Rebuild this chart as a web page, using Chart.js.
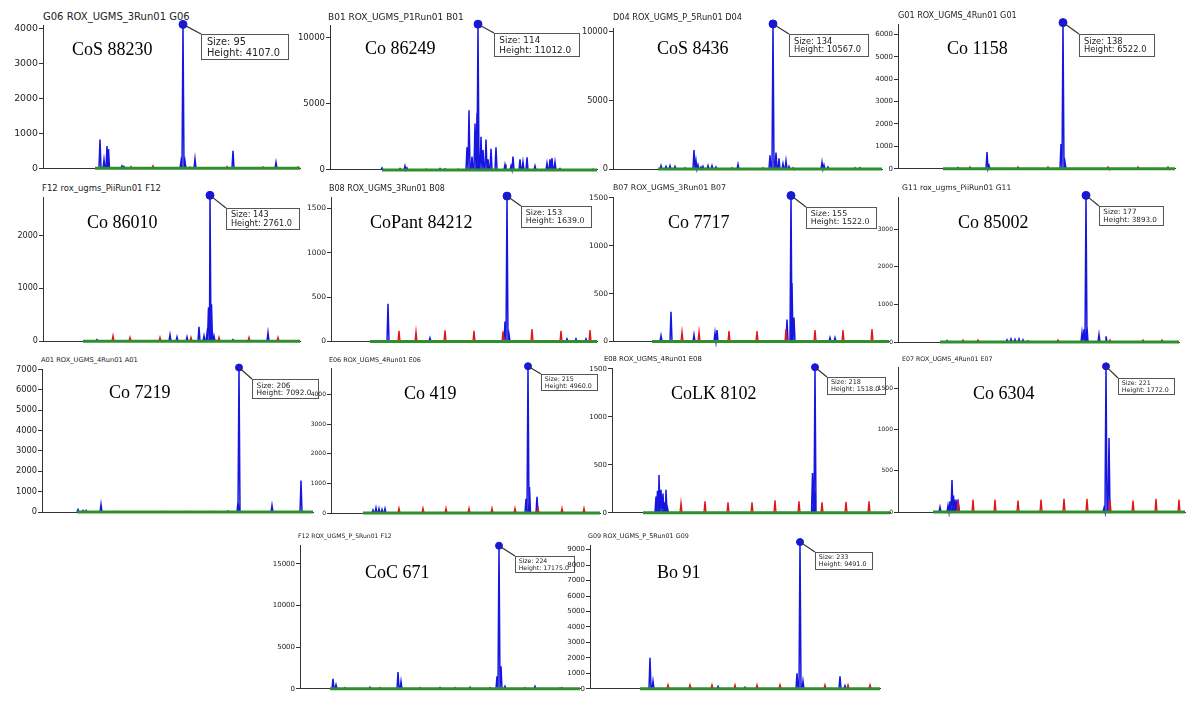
<!DOCTYPE html>
<html lang="en">
<head>
<meta charset="UTF-8"/>
<title>Electropherograms of sugarcane varieties</title>
<script src="https://cdn.jsdelivr.net/npm/chart.js"></script>
<style>
  body {
    margin: 0;
    background: #fff;
    width: 1200px;
    height: 712px;
    position: relative;
    overflow: hidden;
    font-family: 'DejaVu Sans', sans-serif;
  }
  canvas { position: absolute; }
  .title {
    position: absolute;
    white-space: nowrap;
    line-height: 1;
    color: #222;
  }
  .label {
    position: absolute;
    white-space: nowrap;
    line-height: 1;
    font-family: 'Liberation Serif', serif;
    font-size: 18px;
    color: #000;
  }
</style>
</head>
<body>
<script>
// ---- data ----
const titles = [
  'G06 ROX_UGMS_3Run01 G06', 'B01 ROX_UGMS_P1Run01 B01', 'D04 ROX_UGMS_P_5Run01 D04', 'G01 ROX_UGMS_4Run01 G01',
  'F12 rox_ugms_PiiRun01 F12', 'B08 ROX_UGMS_3Run01 B08', 'B07 ROX_UGMS_3Run01 B07', 'G11 rox_ugms_PiiRun01 G11',
  'A01 ROX_UGMS_4Run01 A01', 'E06 ROX_UGMS_4Run01 E06', 'E08 ROX_UGMS_4Run01 E08', 'E07 ROX_UGMS_4Run01 E07',
  'F12 ROX_UGMS_P_5Run01 F12', 'G09 ROX_UGMS_P_5Run01 G09'
];
const cultivars = ['CoS 88230', 'Co 86249', 'CoS 8436', 'Co 1158', 'Co 86010', 'CoPant 84212', 'Co 7717',
  'Co 85002', 'Co 7219', 'Co 419', 'CoLK 8102', 'Co 6304', 'CoC 671', 'Bo 91'];

// allele called on the main peak
const peakSize = [95, 114, 134, 138, 143, 153, 155, 177, 206, 215, 218, 221, 224, 233];
const peakHeight = [4107, 11012, 10567, 6522, 2761, 1639, 1522, 3893, 7092, 4960, 1518, 1772, 17175, 9491];
const peakScan = [140, 148, 160, 165, 167, 176, 178, 188, 197, 197, 203, 208, 199, 210];

// axes
const yMax = [4090, 10950, 10270, 6460, 2730, 1629, 1507, 3850, 7020, 4900, 1510, 1764, 17260, 9300];
const yStep = [1000, 5000, 5000, 1000, 1000, 500, 500, 1000, 1000, 1000, 500, 500, 5000, 1000];
const scanStart = [52, 52, 45, 45, 40, 39, 39, 42, 35, 32, 31, 35, 30, 50];
const scanEnd = [257, 267, 269, 277, 257, 266, 276, 281, 271, 269, 278, 287, 280, 290];

// other blue (FAM) peaks: [scan, height]
const blueCoS88230 = [[57, 820], [61, 250], [64, 640], [65.5, 550], [79, 70], [81, 50], [138, 200], [142, 200], [152, 270], [190, 500], [233, 170]];
const blueCo86249 = [[52, 150], [70, 100], [75, 300], [77, 150], [110, 100], [115, 80], [137, 1700], [139, 4500], [142, 1000], [145, 3500],
  [147, 4300], [151, 2500], [153, 1500], [156, 2300], [158, 800], [161, 1600], [166, 1700], [175, 400], [181, 300], [183, 1000],
  [190, 800], [193, 600], [197, 950], [205, 300], [217, 500], [220, 800], [222, 900], [225, 600], [230, 100]];
const blueCoS8436 = [[48, 250], [53, 200], [57, 250], [62, 200], [81, 1385], [83, 600], [85, 300], [88, 150], [90, 200], [95, 250],
  [99, 250], [103, 150], [125, 350], [157, 1000], [163, 1200], [166, 790], [170, 400], [173, 600], [176, 200], [209, 500], [211, 300],
  [215, 150], [247, 100]];
const blueCo1158 = [[60, 60], [89, 750], [91, 150], [163, 1100], [167, 300]];
const blueCo86010 = [[54, 30], [127, 120], [134, 80], [144, 80], [156, 270], [161, 100], [164, 150], [165.5, 640], [168.5, 700],
  [171, 100], [190, 30], [225, 160]];
const blueCoPant84212 = [[57, 425], [99, 40], [174, 225], [178, 80], [236, 30], [245, 30], [255, 30]];
const blueCo7717 = [[48, 60], [58, 310], [81, 70], [102, 90], [104, 120], [174, 230], [179, 610], [181, 250], [217, 40], [222, 40]];
const blueCo85002 = [[49, 40], [109, 60], [113, 80], [117, 70], [121, 80], [125, 60], [130, 30], [184, 250], [186, 340], [189, 400],
  [201, 200], [208, 150]];
const blueCo7219 = [[36, 120], [41, 80], [44, 80], [59, 370], [186, 50], [196, 500], [230, 330], [259, 1550]];
const blueCo419 = [[42, 100], [45, 170], [48, 150], [51, 120], [54, 150], [195, 480], [198.5, 880], [206, 550]];
const blueCoLK8102 = [[44, 170], [45.5, 230], [47, 395], [49, 240], [51, 200], [52.5, 110], [54, 240], [55.5, 50], [200.5, 415], [202, 300]];
const blueCo6304 = [[42, 60], [50, 80], [52, 130], [54, 390], [55.5, 200], [57, 150], [59, 150], [60.5, 100], [206, 50], [211, 900]];
const blueCoC671 = [[33, 1200], [36, 500], [70, 200], [98, 2000], [101, 900], [140, 150], [170, 200], [197, 1500], [201, 2700],
  [205, 300], [235, 300], [260, 100]];
const blueBo91 = [[60, 2000], [63, 500], [128, 150], [155, 100], [207, 1000], [213, 500], [250, 800], [255, 200]];

// red (ROX size standard) peaks: [scan, height]
const redCoS88230 = [[88, 50], [110, 70], [147, 40], [184, 50], [220, 40], [255, 40]];
const redCo86249 = [[96, 60], [128, 60], [263, 60]];
const redCoS8436 = [[72, 100], [119, 100], [150, 100], [180, 100], [242, 100]];
const redCo1158 = [[72, 80], [120, 80], [150, 80], [210, 80], [240, 80], [270, 80]];
const redCo86010 = [[70, 100], [87, 70], [117, 70], [148, 70], [176, 70], [206, 70], [235, 70]];
const redCoPant84212 = [[68, 120], [85, 110], [114, 125], [143, 120], [172, 115], [201, 140], [230, 120], [259, 130]];
const redCo7717 = [[69, 100], [86, 100], [116, 110], [144, 110], [173, 130], [202, 120], [230, 120], [259, 130]];
const redCo85002 = [[65, 50], [80, 50], [160, 50], [212, 50], [245, 50], [264, 50]];
const redCo7219 = [[71, 20], [120, 20], [145, 20], [167, 20]];
const redCo419 = [[68, 160], [92, 160], [115, 160], [138, 160], [161, 160], [184, 160], [207, 160], [231, 160], [253, 160]];
const redCoLK8102 = [[69, 100], [93, 120], [116, 110], [140, 110], [163, 130], [187, 120], [210, 110], [234, 115], [257, 120]];
const redCo6304 = [[60, 140], [75, 150], [97, 150], [120, 140], [143, 150], [166, 160], [189, 160], [212, 140], [235, 140], [258, 160], [281, 150]];
const redCoC671 = [[45, 150], [80, 150], [120, 150], [155, 150], [190, 150], [225, 150], [262, 150]];
const redBo91 = [[78, 250], [100, 250], [122, 250], [145, 250], [167, 250], [190, 250], [235, 250], [258, 250], [280, 250]];

const bluePeaks = [blueCoS88230, blueCo86249, blueCoS8436, blueCo1158, blueCo86010, blueCoPant84212, blueCo7717,
  blueCo85002, blueCo7219, blueCo419, blueCoLK8102, blueCo6304, blueCoC671, blueBo91];
const redPeaks = [redCoS88230, redCo86249, redCoS8436, redCo1158, redCo86010, redCoPant84212, redCo7717,
  redCo85002, redCo7219, redCo419, redCoLK8102, redCo6304, redCoC671, redBo91];

// ---- page layout (pixels) ----
// ax: y axis x, tx/bx: plot top/bottom, rx: x axis end
const layout = [
  { ax: 43, tx: 25, bx: 171, rx: 300, tick: 9.4, box: 9.8, dx: 18, dy: 10, title: [43, 20, 10], label: [72, 55] },
  { ax: 330, tx: 25, bx: 172, rx: 597, tick: 8.5, box: 8.9, dx: 16, dy: 9, title: [328, 21, 9], label: [365, 54] },
  { ax: 613, tx: 28, bx: 171, rx: 882, tick: 8.2, box: 8.3, dx: 16, dy: 10, title: [613, 20, 8.2], label: [657, 54] },
  { ax: 898, tx: 24, bx: 170, rx: 1175, tick: 7, box: 8.4, dx: 16, dy: 11, title: [898, 18, 8.1], label: [947, 54] },
  { ax: 43, tx: 197, bx: 343, rx: 300, tick: 8.1, box: 8.2, dx: 16, dy: 13, title: [42, 191.5, 8.5], label: [87, 228] },
  { ax: 331, tx: 197, bx: 343, rx: 597, tick: 7.5, box: 7.9, dx: 14, dy: 10, title: [329, 191.5, 8], label: [370, 228] },
  { ax: 613, tx: 197, bx: 343, rx: 889, tick: 7.5, box: 7.9, dx: 15, dy: 11, title: [613, 191, 7.8], label: [668, 228] },
  { ax: 898, tx: 197, bx: 343, rx: 1179, tick: 6, box: 7.2, dx: 13, dy: 11, title: [902, 190, 7.6], label: [958, 228] },
  { ax: 42, tx: 369, bx: 514, rx: 313, tick: 8.3, box: 7.4, dx: 13, dy: 11, title: [41, 362.5, 6.7], label: [109, 398] },
  { ax: 331, tx: 368, bx: 514, rx: 600, tick: 6, box: 6.3, dx: 13, dy: 8, title: [329, 362, 6.4], label: [404, 399] },
  { ax: 612, tx: 368, bx: 514, rx: 890, tick: 7, box: 6.5, dx: 12, dy: 10, title: [604, 362, 6.8], label: [671, 399] },
  { ax: 898, tx: 367, bx: 513, rx: 1185, tick: 6, box: 6.3, dx: 12, dy: 12, title: [902, 361, 6.3], label: [973, 399] },
  { ax: 300, tx: 545, bx: 690, rx: 580, tick: 7, box: 6.2, dx: 16, dy: 10, title: [298, 538, 6.1], label: [365, 578] },
  { ax: 590, tx: 545, bx: 690, rx: 880, tick: 7, box: 6.4, dx: 15, dy: 10, title: [588, 538, 6.4], label: [657, 578] }
];

const BLUE = '#1616e0', RED = '#e5141b', GREEN = '#2f8f2f', AXIS = '#333';
const PAD_L = 44, PAD_T = 14, PAD_R = 30, PAD_B = 4;

// each peak becomes a narrow spike on the zero line
function spikes(peaks) {
  const pts = [];
  peaks.slice().sort((a, b) => a[0] - b[0]).forEach(([s, h]) => {
    pts.push({ x: s - 1, y: 0 }, { x: s, y: h }, { x: s + 1, y: 0 });
  });
  return pts;
}

const callout = {
  id: 'callout',
  afterDatasetsDraw(chart, args, opts) {
    const pt = chart.getDatasetMeta(3).data[0];
    const ctx = chart.ctx;
    const fs = opts.fs;
    const lines = ['Size: ' + opts.size, 'Height: ' + opts.height.toFixed(1)];
    ctx.save();
    ctx.font = fs + 'px "DejaVu Sans"';
    ctx.textAlign = 'left';
    ctx.textBaseline = 'alphabetic';
    const tw = Math.max(...lines.map(t => ctx.measureText(t).width));
    const w = Math.ceil(tw + fs * 1.4);
    const h = Math.round(fs * 2.6);
    const x0 = Math.round(pt.x + opts.dx), y0 = Math.round(pt.y + opts.dy);
    ctx.strokeStyle = AXIS;
    ctx.lineWidth = 1.2;
    ctx.beginPath();
    ctx.moveTo(pt.x, pt.y);
    ctx.lineTo(x0, y0);
    ctx.stroke();
    ctx.fillStyle = '#fff';
    ctx.fillRect(x0, y0, w, h);
    ctx.strokeStyle = '#555';
    ctx.lineWidth = 1;
    ctx.strokeRect(x0 + 0.5, y0 + 0.5, w, h);
    ctx.fillStyle = '#222';
    ctx.fillText(lines[0], x0 + fs * 0.6, y0 + fs * 1.15);
    ctx.fillText(lines[1], x0 + fs * 0.6, y0 + fs * 2.2);
    ctx.restore();
  }
};

layout.forEach((L, i) => {
  const t = document.createElement('div');
  t.className = 'title';
  t.textContent = titles[i];
  t.style.fontSize = L.title[2] + 'px';
  t.style.left = L.title[0] + 'px';
  t.style.top = (L.title[1] - 0.846 * L.title[2]) + 'px';
  document.body.appendChild(t);

  const canvas = document.createElement('canvas');
  canvas.width = (L.rx - L.ax) + PAD_L + PAD_R;
  canvas.height = (L.bx - L.tx) + PAD_T + PAD_B;
  canvas.style.left = (L.ax - PAD_L) + 'px';
  canvas.style.top = (L.tx - PAD_T) + 'px';
  document.body.appendChild(canvas);

  const lab = document.createElement('div');
  lab.className = 'label';
  lab.textContent = cultivars[i];
  lab.style.left = L.label[0] + 'px';
  lab.style.top = (L.label[1] - 15) + 'px';
  document.body.appendChild(lab);

  const blue = spikes(bluePeaks[i].concat([[peakScan[i], peakHeight[i]]]));
  const red = spikes(redPeaks[i]);
  const green = [{ x: scanStart[i], y: 0 }, { x: scanEnd[i], y: 0 }];
  const dot = i < 8 ? 4 : 3.5;

  new Chart(canvas, {
    type: 'line',
    data: {
      datasets: [
        { data: green, borderColor: GREEN, borderWidth: 3, pointRadius: 0, clip: false, order: 1 },
        { data: red, borderColor: RED, borderWidth: 1.4, pointRadius: 0, clip: false, order: 2 },
        { data: blue, borderColor: BLUE, borderWidth: 1.5, pointRadius: 0, clip: false, order: 3 },
        { data: [{ x: peakScan[i], y: peakHeight[i] }], showLine: false, pointRadius: dot,
          pointBackgroundColor: BLUE, pointBorderColor: BLUE, clip: false, order: 0 }
      ]
    },
    options: {
      responsive: false,
      animation: false,
      events: [],
      layout: { padding: { top: PAD_T, right: PAD_R, bottom: 0, left: 0 } },
      elements: { line: { tension: 0 } },
      plugins: {
        legend: { display: false },
        tooltip: { enabled: false },
        callout: { size: peakSize[i], height: peakHeight[i], fs: L.box, dx: L.dx, dy: L.dy }
      },
      scales: {
        x: {
          type: 'linear', min: 0, max: scanEnd[i],
          ticks: { display: false },
          grid: { display: false },
          border: { color: AXIS, width: 1 },
          afterFit: s => { s.height = PAD_B; }
        },
        y: {
          min: 0, max: yMax[i],
          ticks: { color: '#222', padding: 1, callback: v => String(v),
            font: { size: L.tick, family: 'DejaVu Sans' } },
          afterBuildTicks: s => {
            const ticks = [];
            for (let v = 0; v <= yMax[i]; v += yStep[i]) ticks.push({ value: v });
            s.ticks = ticks;
          },
          grid: { drawOnChartArea: false, color: AXIS, tickLength: 4 },
          border: { color: AXIS, width: 1 },
          afterFit: s => { s.width = PAD_L; }
        }
      }
    },
    plugins: [callout]
  });
});
</script>
</body>
</html>
